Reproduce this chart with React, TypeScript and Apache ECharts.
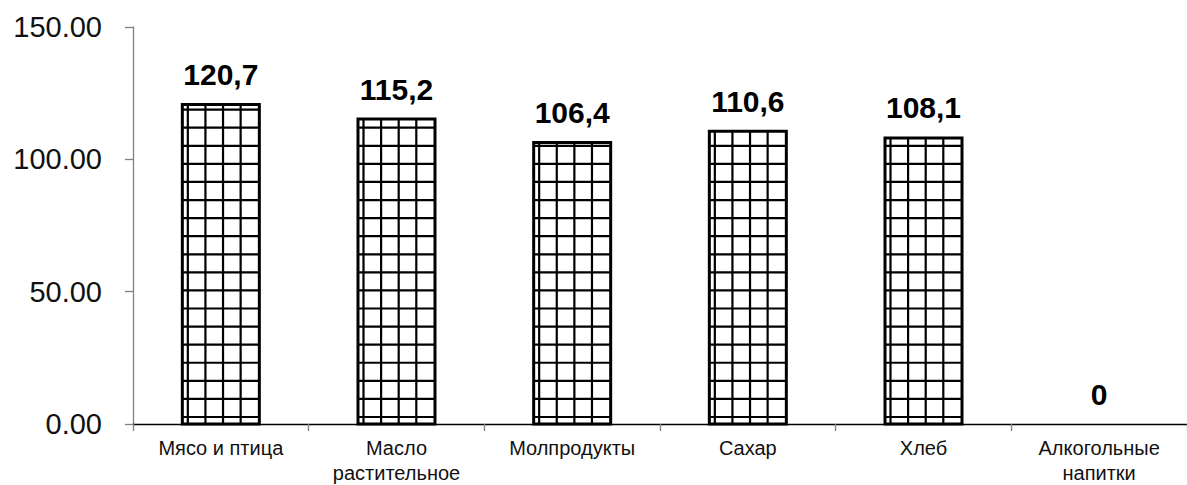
import React, { useEffect, useRef } from "react";
import * as echarts from "echarts";

const categories = [
  "Мясо и птица",
  "Масло\nрастительное",
  "Молпродукты",
  "Сахар",
  "Хлеб",
  "Алкогольные\nнапитки",
];
const values = [120.7, 115.2, 106.4, 110.6, 108.1, 0];
const yTicks = { min: 0, max: 150, interval: 50 };

const FONT = "'Liberation Sans', Arial, sans-serif";

export default function App() {
  const ref = useRef<HTMLDivElement>(null);
  useEffect(() => {
    if (!ref.current) return;
    const chart = echarts.init(ref.current, null, { renderer: "svg" });
    const data = values.map((v, i) => [i, v]);
    chart.setOption({
      animation: false,
      grid: { left: 133, top: 27, width: 1068, height: 400, containLabel: false },
      xAxis: {
        type: "category",
        data: categories,
        axisLine: { lineStyle: { color: "#000", width: 1.3 } },
        axisTick: { show: true, length: 7, lineStyle: { color: "#808080", width: 1.3 } },
        axisLabel: {
          color: "#111",
          fontFamily: FONT,
          fontSize: 20,
          lineHeight: 25,
          margin: 11,
          interval: 0,
        },
      },
      yAxis: {
        type: "value",
        min: yTicks.min,
        max: yTicks.max,
        interval: yTicks.interval,
        splitLine: { show: false },
        axisLine: { show: true, lineStyle: { color: "#808080", width: 1.3 } },
        axisTick: { show: true, length: 8, lineStyle: { color: "#808080", width: 1.3 } },
        axisLabel: {
          color: "#111",
          fontFamily: FONT,
          fontSize: 29,
          margin: 31,
          formatter: (v: number) => v.toFixed(2),
        },
      },
      series: [
        {
          type: "custom",
          encode: { x: 0, y: 1 },
          data,
          renderItem: (params: any, api: any) => {
            const idx = api.value(0);
            const v = api.value(1);
            const top = api.coord([idx, v]);
            const base = api.coord([idx, 0]);
            const bw = 77;
            const x0 = top[0] - bw / 2;
            const y0 = top[1];
            const h = base[1] - top[1];
            const children: any[] = [];
            if (h > 0) {
              children.push({
                type: "rect",
                shape: { x: x0, y: y0, width: bw, height: h },
                style: { fill: "#fff", stroke: null },
              });
              for (let x = x0 + 5.5; x < x0 + bw - 3; x += 17.6) {
                children.push({
                  type: "line",
                  shape: { x1: x, y1: y0, x2: x, y2: base[1] },
                  style: { stroke: "#000", lineWidth: 2.2 },
                });
              }
              for (let y = base[1] - 7; y > y0 + 2; y -= 18.08) {
                children.push({
                  type: "line",
                  shape: { x1: x0, y1: y, x2: x0 + bw, y2: y },
                  style: { stroke: "#000", lineWidth: 2.2 },
                });
              }
              children.push({
                type: "rect",
                shape: { x: x0, y: y0, width: bw, height: h },
                style: { fill: null, stroke: "#000", lineWidth: 3 },
              });
            }
            children.push({
              type: "text",
              x: top[0],
              y: y0 - 30,
              style: {
                text: String(v).replace(".", ","),
                align: "center",
                verticalAlign: "middle",
                fontFamily: FONT,
                fontWeight: "bold",
                fontSize: 30,
                fill: "#000",
              },
            });
            return { type: "group", children };
          },
        },
      ],
    });
    return () => chart.dispose();
  }, []);
  return (
    <div
      ref={ref}
      style={{ position: "absolute", left: 0, top: 0, width: 1187, height: 485, background: "#fff" }}
    />
  );
}
